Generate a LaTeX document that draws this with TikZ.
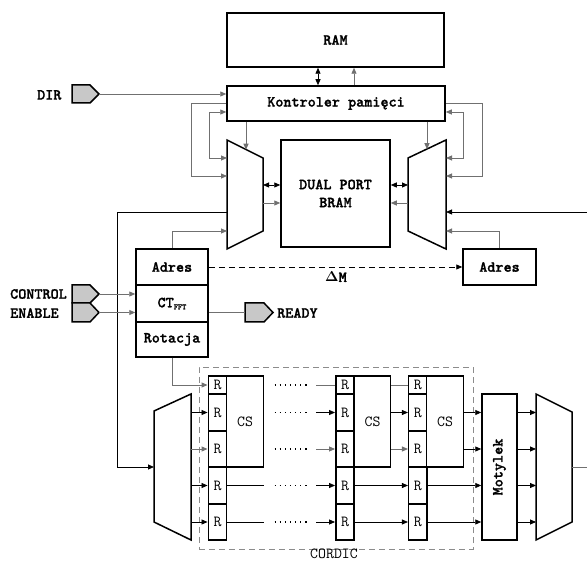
\documentclass[tikz,border=0pt]{standalone}
\usepackage[no-math]{fontspec}
\usetikzlibrary{arrows.meta,calc}
\newfontfamily\bmono{lmmonolt10-bold.otf}[FakeBold=1.3]
\definecolor{lg}{HTML}{C8C8C8}
\definecolor{cg}{HTML}{707070}
\definecolor{dg}{HTML}{8C8C8C}
\tikzset{
 every node/.style={font=\ttfamily\fontsize{15.4}{18}\selectfont, inner sep=0pt},
 blk/.style={draw, line width=1.5pt, fill=white},
 bt/.style={font=\bmono\fontsize{15.4}{18}\selectfont},
 wire/.style={line width=0.8pt, black},
 gwire/.style={line width=0.9pt, cg},
 arr/.style={-{Triangle[length=6pt,width=5pt]}},
 darr/.style={{Triangle[length=6pt,width=5pt]}-{Triangle[length=6pt,width=5pt]}},
 port/.style={draw, line width=1.5pt, fill=lg},
 dotrow/.style={line width=1.4pt, dash pattern=on 1.4pt off 3.7pt},
 invis/.style={inner sep=0pt, outer sep=0pt},
}
\begin{document}
\begin{tikzpicture}[x=1pt,y=-1pt]
\useasboundingbox (0,0) rectangle (587,561);
% helper coordinates
\coordinate (yA) at (0,158); \coordinate (yB) at (0,176);
\coordinate (yC) at (0,212); \coordinate (yD) at (0,231);
\coordinate (yE) at (0,112); \coordinate (yF) at (0,103);
\coordinate (yG) at (0,185); \coordinate (yH) at (0,203);
\coordinate (xa) at (318,0); \coordinate (xb) at (354,0);
\coordinate (xL1) at (191,0); \coordinate (xL2) at (209,0);
\coordinate (xR1) at (482,0); \coordinate (xR2) at (463,0);
\coordinate (xedge) at (587,0); \coordinate (xleft) at (117,0);
\coordinate (xk1) at (246,0); \coordinate (xk2) at (427,0);

% main boxes
\node[blk,bt,minimum width=217pt,minimum height=54pt] (ram) at (335.5,40) {RAM};
\node[blk,bt,minimum width=218pt,minimum height=35pt] (ctrl) at (336,103.5) {Kontroler pamięci};
\node[blk,bt,minimum width=109pt,minimum height=107pt,align=center] (bram) at (335.5,193.5) {DUAL PORT\\BRAM};
\node[blk,bt,minimum width=72pt,minimum height=36pt] (adrL) at (172,267) {Adres};
\node[blk,bt,minimum width=72pt,minimum height=37pt] (ct) at (172,303.5) {CT\raisebox{-2pt}{\fontsize{8}{8}\selectfont FFT}};
\node[blk,bt,minimum width=72pt,minimum height=35pt] (rot) at (172,339.5) {Rotacja};
\node[blk,bt,minimum width=73pt,minimum height=36pt] (adrR) at (499.5,267) {Adres};

% multiplexers (trapezoids)
\node[invis,minimum width=36pt,minimum height=109pt] (muxL) at (245,194.5) {};
\draw[blk] (muxL.north west) -- ($(muxL.north east)+(0,18)$) -- ($(muxL.south east)+(0,-18)$) -- (muxL.south west) -- cycle;
\node[invis,minimum width=38pt,minimum height=109pt] (muxR) at (427,194.5) {};
\draw[blk] ($(muxR.north west)+(0,18)$) -- (muxR.north east) -- (muxR.south east) -- ($(muxR.south west)+(0,-18)$) -- cycle;
\node[invis,minimum width=37pt,minimum height=146pt] (muxB) at (172.5,467) {};
\draw[blk] ($(muxB.north west)+(0,17)$) -- (muxB.north east) -- (muxB.south east) -- ($(muxB.south west)+(0,-18)$) -- cycle;
\node[invis,minimum width=36pt,minimum height=146pt] (muxO) at (554,467) {};
\draw[blk] (muxO.north west) -- ($(muxO.north east)+(0,18)$) -- ($(muxO.south east)+(0,-18)$) -- (muxO.south west) -- cycle;

% ports
\coordinate (dirT) at (99,94);
\draw[port] (72,85) -- (90,85) -- (dirT) -- (90,103) -- (72,103) -- cycle;
\coordinate (ctlT) at (99,294);
\draw[port] (72,285) -- (90,285) -- (ctlT) -- (90,303) -- (72,303) -- cycle;
\coordinate (enT) at (99,312.5);
\draw[port] (72,303) -- (90,303) -- (enT) -- (90,322) -- (72,322) -- cycle;
\coordinate (rdyB) at (245,312.5);
\draw[port] (245,303) -- (264,303) -- (273,312.5) -- (264,322) -- (245,322) -- cycle;

\node[bt,anchor=west] (dirl) at (37,95) {DIR};
\node[bt,anchor=west] (ctll) at (10,294) {CONTROL};
\node[bt,anchor=west] (enl) at (10,313) {ENABLE};
\node[bt,anchor=west] (rdl) at (277,313) {READY};

% CORDIC area
\node[draw=dg,line width=0.9pt,dash pattern=on 6pt off 4pt,minimum width=274pt,minimum height=182pt] (cordic) at (336,458) {};
\node (cordl) at (334,554) {CORDIC};

\foreach \c/\cx in {1/217.5, 2/345, 3/417.9} {
  \foreach \r/\cy/\h in {0/385/18, 1/412.5/37, 2/449/36, 3/485.5/37, 4/522/36} {
    \node[blk,minimum width=18.4pt,minimum height=\h pt] (c\c r\r) at (\cx,\cy) {R};
  }
}
\node[blk,minimum width=36.6pt,minimum height=91pt] (cs1) at (245,421.5) {CS};
\node[blk,minimum width=36.4pt,minimum height=91pt] (cs2) at (372.5,421.5) {CS};
\node[blk,minimum width=36.6pt,minimum height=91pt] (cs3) at (445,421.5) {CS};
\node[blk,minimum width=35pt,minimum height=146pt] (mot) at (499.5,467) {};
\node[bt,rotate=90] (motl) at (mot.center) {Motylek};

% top connectors
\draw[wire,darr] (ctrl.north -| xa) -- (ram.south -| xa);
\draw[gwire,arr] (ctrl.north -| xb) -- (ram.south -| xb);
\draw[gwire,arr] (dirT) -- (ctrl.west |- dirT);
\draw[gwire,arr] (ctrl.south -| xk1) -- ($(ctrl.south -| xk1)+(0,28)$);
\draw[gwire,arr] (ctrl.south -| xk2) -- ($(ctrl.south -| xk2)+(0,27.5)$);
\draw[gwire,arr] (ctrl.west |- yF) -- (xL1 |- yF) -- (xL1 |- yB) -- (muxL.west |- yB);
\draw[gwire,darr] (ctrl.west |- yE) -- (xL2 |- yE) -- (xL2 |- yA) -- (muxL.west |- yA);
\draw[gwire,arr] (ctrl.east |- yF) -- (xR1 |- yF) -- (xR1 |- yB) -- (muxR.east |- yB);
\draw[gwire,darr] (ctrl.east |- yE) -- (xR2 |- yE) -- (xR2 |- yA) -- (muxR.east |- yA);
\draw[wire,darr] (muxL.east |- yG) -- (bram.west |- yG);
\draw[gwire,arr] (muxL.east |- yH) -- (bram.west |- yH);
\draw[wire,darr] (muxR.west |- yG) -- (bram.east |- yG);
\draw[gwire,arr] (muxR.west |- yH) -- (bram.east |- yH);
\draw[wire,arr] (xedge |- yC) -- (muxR.east |- yC);
\draw[wire,arr] (muxL.west |- yC) -- (xleft |- yC) -- (xleft |- muxB.west) -- (muxB.west);
\draw[gwire,arr] (adrL.north) -- (adrL.north |- yD) -- (muxL.west |- yD);
\draw[gwire,arr] (adrR.north) -- (adrR.north |- yD) -- (muxR.east |- yD);
\draw[wire,arr,dash pattern=on 6pt off 4pt] (adrL.east) -- (adrR.west);
\node[bt] (dm) at (336,277) {$\mathbf{\Delta}$M};
\draw[gwire,arr] (ctlT) -- (ct.west |- ctlT);
\draw[gwire,arr] (enT) -- (ct.west |- enT);
\draw[gwire] (ct.east |- rdyB) -- (rdyB);

% CORDIC connectors
\draw[gwire,arr] (rot.south) -- (rot.south |- c1r0.west) -- (c1r0.west);
\foreach \r in {1,3,4} \draw[wire,arr] (muxB.east |- c1r\r.west) -- (c1r\r.west);
\draw[gwire,arr] (muxB.east |- c1r2.west) -- (c1r2.west);
\foreach \r in {0,...,4} \draw[dotrow] ($(cs1.east |- c1r\r.west)+(10.5,0)$) -- ++(35,0);
\draw[gwire] ($(c2r0.west)+(-19,0)$) -- (c2r0.west);
\draw[wire,arr] ($(c2r1.west)+(-19,0)$) -- (c2r1.west);
\draw[gwire,arr] ($(c2r2.west)+(-19,0)$) -- (c2r2.west);
\foreach \r in {3,4} {
  \draw[wire] (c1r\r.east) -- (cs1.east |- c1r\r.east);
  \draw[wire,arr] ($(c2r\r.west)+(-19,0)$) -- (c2r\r.west);
}
\draw[gwire] (cs2.east |- c3r0.west) -- (c3r0.west);
\draw[wire,arr] (cs2.east |- c3r1.west) -- (c3r1.west);
\draw[gwire,arr] (cs2.east |- c3r2.west) -- (c3r2.west);
\foreach \r in {3,4} \draw[wire,arr] (c2r\r.east) -- (c3r\r.west);
\foreach \r in {1,2} \draw[wire,arr] (cs3.east |- c3r\r.west) -- (mot.west |- c3r\r.west);
\foreach \r in {3,4} \draw[wire,arr] (c3r\r.east) -- (mot.west |- c3r\r.east);
\foreach \r in {1,...,4} \draw[wire,arr] (mot.east |- c3r\r.west) -- (muxO.west |- c3r\r.west);
\draw[gwire] (muxO.east) -- (xedge |- muxO.east);
\end{tikzpicture}
\end{document}
